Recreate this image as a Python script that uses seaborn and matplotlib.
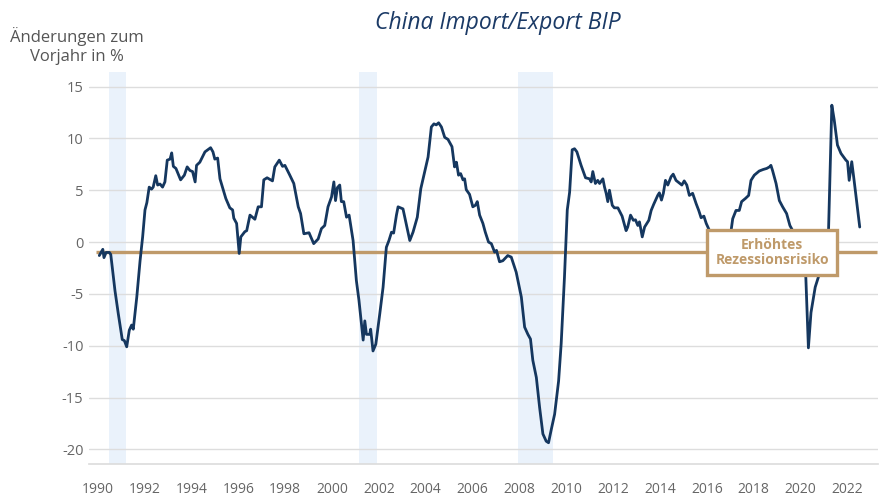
import pandas as pd
import matplotlib.pyplot as plt
import seaborn as sns

# Daten, Jahr als Dezimalzahl
jahre = [
    1990.07, 1990.22, 1990.27, 1990.36, 1990.50, 1990.56, 1990.74, 1990.88, 1991.05, 1991.14,
    1991.24, 1991.35, 1991.45, 1991.52, 1991.67, 1991.81, 1991.92, 1992.02, 1992.10, 1992.20,
    1992.30, 1992.37, 1992.48, 1992.56, 1992.66, 1992.77, 1992.87, 1992.97, 1993.09, 1993.16,
    1993.23, 1993.34, 1993.54, 1993.70, 1993.82, 1993.94, 1994.05, 1994.16, 1994.22, 1994.36,
    1994.58, 1994.82, 1994.92, 1995.00, 1995.12, 1995.22, 1995.47, 1995.64, 1995.76, 1995.81,
    1995.93, 1996.04, 1996.11, 1996.28, 1996.36, 1996.50, 1996.71, 1996.85, 1996.99, 1997.09,
    1997.23, 1997.46, 1997.56, 1997.75, 1997.89, 1997.99, 1998.20, 1998.37, 1998.56, 1998.66,
    1998.80, 1999.02, 1999.22, 1999.41, 1999.55, 1999.69, 1999.83, 1999.98, 2000.08, 2000.15,
    2000.23, 2000.33, 2000.40, 2000.50, 2000.62, 2000.73, 2000.90, 2001.04, 2001.15, 2001.33,
    2001.40, 2001.47, 2001.61, 2001.65, 2001.75, 2001.87, 2002.04, 2002.18, 2002.32, 2002.43,
    2002.54, 2002.63, 2002.75, 2002.82, 2003.03, 2003.32, 2003.46, 2003.64, 2003.79, 2003.96,
    2004.10, 2004.24, 2004.35, 2004.45, 2004.55, 2004.67, 2004.81, 2004.95, 2005.12, 2005.23,
    2005.31, 2005.40, 2005.49, 2005.59, 2005.66, 2005.73, 2005.87, 2006.01, 2006.12, 2006.20,
    2006.30, 2006.44, 2006.54, 2006.68, 2006.80, 2006.94, 2007.02, 2007.15, 2007.29, 2007.50,
    2007.65, 2007.86, 2008.08, 2008.22, 2008.36, 2008.47, 2008.57, 2008.72, 2008.86, 2009.00,
    2009.14, 2009.24, 2009.36, 2009.50, 2009.67, 2009.78, 2009.92, 2010.04, 2010.14, 2010.25,
    2010.35, 2010.45, 2010.63, 2010.82, 2010.99, 2011.06, 2011.13, 2011.24, 2011.34, 2011.42,
    2011.56, 2011.63, 2011.70, 2011.77, 2011.84, 2011.96, 2012.05, 2012.20, 2012.38, 2012.55,
    2012.62, 2012.74, 2012.86, 2012.95, 2013.05, 2013.12, 2013.24, 2013.34, 2013.52, 2013.62,
    2013.73, 2013.90, 2013.97, 2014.06, 2014.14, 2014.23, 2014.33, 2014.47, 2014.56, 2014.68,
    2014.82, 2014.93, 2015.03, 2015.14, 2015.25, 2015.39, 2015.54, 2015.65, 2015.75, 2015.87,
    2015.97, 2016.09, 2016.40, 2016.75, 2017.03, 2017.10, 2017.24, 2017.38, 2017.48, 2017.64,
    2017.78, 2017.88, 2018.02, 2018.23, 2018.40, 2018.55, 2018.67, 2018.73, 2018.80, 2018.95,
    2019.09, 2019.23, 2019.40, 2019.54, 2019.66, 2019.90, 2020.22, 2020.33, 2020.44, 2020.62,
    2020.78, 2021.19, 2021.33, 2021.43, 2021.57, 2021.72, 2021.93, 2022.00, 2022.07, 2022.18,
    2022.28, 2022.52,
]
werte = [
    -1.3, -0.7, -1.5, -1.0, -1.0, -1.2, -4.7, -6.9, -9.4, -9.5,
    -10.1, -8.5, -8.0, -8.4, -5.3, -1.8, 0.5, 3.1, 3.8, 5.3,
    5.1, 5.3, 6.4, 5.5, 5.6, 5.3, 5.8, 7.9, 8.0, 8.6,
    7.3, 7.1, 6.0, 6.45, 7.25, 6.9, 6.8, 5.8, 7.4, 7.7,
    8.7, 9.1, 8.7, 8.0, 8.1, 6.1, 4.2, 3.3, 3.1, 2.3,
    1.8, -1.1, 0.5, 1.0, 1.1, 2.6, 2.2, 3.4, 3.4, 6.0,
    6.2, 5.9, 7.25, 7.9, 7.3, 7.4, 6.45, 5.65, 3.4, 2.75,
    0.8, 0.9, -0.15, 0.3, 1.3, 1.6, 3.4, 4.35, 5.8, 4.0,
    5.25, 5.5, 3.9, 3.9, 2.4, 2.6, 0.15, -3.7, -5.6, -9.45,
    -7.6, -8.9, -8.9, -8.4, -10.5, -9.85, -6.9, -4.35, -0.5, 0.15,
    0.95, 0.87, 2.6, 3.4, 3.2, 0.15, 0.97, 2.4, 5.15, 6.8,
    8.2, 11.1, 11.4, 11.3, 11.5, 11.1, 10.1, 9.9, 9.2, 7.25,
    7.7, 6.45, 6.6, 6.0, 6.1, 5.05, 4.6, 3.4, 3.55, 3.9,
    2.6, 1.8, 0.97, 0.0, -0.15, -0.97, -0.8, -1.9, -1.8, -1.3,
    -1.45, -2.9, -5.3, -8.2, -8.9, -9.35, -11.4, -13.05, -15.95, -18.5,
    -19.2, -19.35, -18.05, -16.6, -13.4, -9.8, -3.4, 3.1, 4.8, 8.9,
    9.0, 8.7, 7.4, 6.2, 6.1, 5.8, 6.8, 5.65, 5.95, 5.65,
    6.1, 5.3, 4.7, 3.9, 5.0, 3.55, 3.3, 3.3, 2.5, 1.1,
    1.45, 2.6, 2.1, 2.15, 1.6, 1.95, 0.5, 1.45, 2.1, 3.05,
    3.65, 4.5, 4.75, 4.05, 4.7, 5.95, 5.5, 6.3, 6.55, 5.95,
    5.7, 5.5, 5.9, 5.5, 4.5, 4.7, 3.7, 3.05, 2.35, 2.5,
    1.8, 1.2, 0.3, 0.2, 1.1, 2.25, 3.05, 3.05, 3.9, 4.2,
    4.5, 5.95, 6.45, 6.85, 7.0, 7.1, 7.25, 7.4, 6.9, 5.65,
    4.0, 3.4, 2.75, 1.6, 1.1, -0.5, -3.4, -10.2, -6.8, -4.35,
    -3.2, 1.2, 13.2, 11.8, 9.35, 8.55, 7.9, 7.75, 5.95, 7.75,
    5.95, 1.45,
]

# US-Rezessionen (schattiert)
rezession_start = [1990.50, 2001.17, 2007.92]
rezession_ende = [1991.21, 2001.90, 2009.42]

schwelle = -1.0
y_ticks = [-20, -15, -10, -5, 0, 5, 10, 15]
x_ticks = list(range(1990, 2023, 2))

df = pd.DataFrame({"Jahr": jahre, "Wert": werte})

sns.set_theme(style="white")
plt.rcParams["font.family"] = ["Open Sans", "DejaVu Sans"]
plt.rcParams["axes.unicode_minus"] = False

navy = "#15375f"
gold = "#bf9a6a"
grau = "#666666"

fig = plt.figure(figsize=(8.81, 5.0), dpi=100)
ax = fig.add_axes([0.101, 0.072, 0.8956, 0.784])

for s, e in zip(rezession_start, rezession_ende):
    ax.axvspan(s, e, color="#eaf2fb", lw=0, zorder=0)

ax.hlines(schwelle, 1989.93, 2023.25, color=gold, lw=2.4, zorder=2)

sns.lineplot(data=df, x="Jahr", y="Wert", ax=ax, color=navy, lw=2.0,
             estimator=None, sort=False, zorder=3)

ax.set_xlim(1989.63, 2023.3)
ax.set_ylim(-21.4, 16.4)
ax.set_yticks(y_ticks)
ax.set_yticklabels([str(v) for v in y_ticks])
ax.set_xticks(x_ticks)
ax.set_xticklabels([str(v) for v in x_ticks])
ax.tick_params(axis="y", length=0, colors=grau, labelsize=10.5, pad=4)
ax.tick_params(axis="x", length=0, colors=grau, labelsize=10, pad=13)
ax.yaxis.grid(True, color="#dddddd", lw=1)
ax.set_axisbelow(True)
ax.set_xlabel("")
ax.set_ylabel("")
for side in ["top", "right", "left"]:
    ax.spines[side].set_visible(False)
ax.spines["bottom"].set_color("#dddddd")

ax.text(2018.79, schwelle, "Erhöhtes\nRezessionsrisiko", ha="center", va="center",
        fontsize=10, fontweight="bold", color=gold, linespacing=1.1, zorder=5,
        bbox=dict(boxstyle="square,pad=0.6", facecolor="white", edgecolor=gold, lw=2.4))

fig.text(0.565, 0.954, "China Import/Export BIP", ha="center", va="center",
         fontsize=16.5, style="italic", color="#1b3a66")
fig.text(0.087, 0.908, "Änderungen zum\nVorjahr in %", ha="center", va="center",
         fontsize=12, color="#555555", linespacing=1.2)

fig.savefig("out.png", dpi=100)
